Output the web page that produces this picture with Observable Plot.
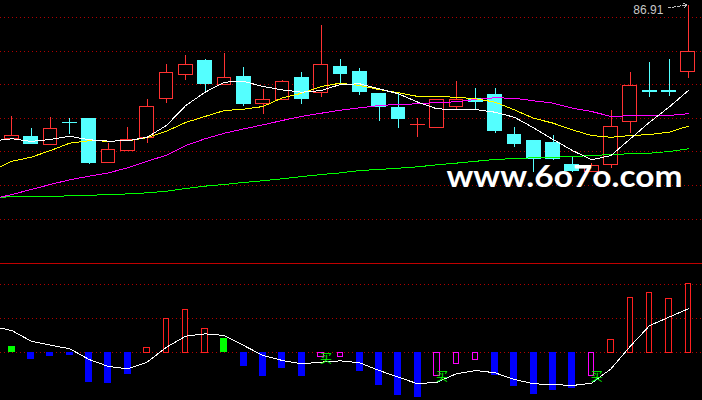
<!DOCTYPE html>
<html>
<head>
<meta charset="utf-8">
<script src="https://cdn.jsdelivr.net/npm/d3@7"></script>
<script src="https://cdn.jsdelivr.net/npm/@observablehq/plot@0.6"></script>
<style>
  html, body { margin: 0; padding: 0; background: #000; }
  #wrap { position: relative; width: 702px; height: 400px; overflow: hidden; background: #000; }
  #top, #bot { position: absolute; left: 0; }
  #top { top: 0; }
  #bot { top: 263px; }
  #wrap svg path, #wrap svg line, #wrap svg rect { shape-rendering: crispEdges; }
</style>
</head>
<body>
<div id="wrap"><div id="top"></div><div id="bot"></div></div>
<script>
// ---- Candles (36 sessions, index 0..35) ----
const open  = [78.95, 79.06, 78.62, 79.93, 80.13, 77.55, 78.26, 79.04, 81.34, 82.76, 83.58, 82.19, 82.63, 81.06, 81.30, 82.57, 81.69, 83.28, 82.98, 81.67, 80.84, 79.81, 79.61, 80.86, 81.34, 81.56, 79.23, 78.82, 78.70, 77.41, 76.99, 77.41, 79.97, 81.80, 81.80, 82.97];
const high  = [80.31, 79.59, 80.25, 80.19, 80.13, 78.68, 79.65, 81.32, 83.40, 83.94, 83.68, 84.06, 83.22, 81.91, 82.45, 82.92, 85.72, 83.68, 83.14, 81.67, 81.66, 80.19, 81.30, 82.39, 81.95, 81.95, 79.65, 78.82, 79.16, 77.88, 77.49, 80.66, 82.92, 83.52, 83.68, 86.91];
const low   = [78.95, 78.66, 78.62, 79.23, 77.47, 77.55, 78.26, 78.72, 81.10, 82.47, 81.81, 82.19, 80.90, 80.44, 81.30, 81.04, 81.45, 82.29, 81.57, 80.03, 79.61, 79.07, 79.61, 80.64, 80.66, 79.31, 78.46, 76.99, 77.69, 77.00, 76.95, 77.23, 79.31, 81.45, 81.51, 82.59];
const close = [79.16, 78.66, 79.59, 79.92, 77.53, 78.32, 78.92, 80.88, 82.91, 83.38, 82.23, 82.61, 81.04, 81.30, 82.37, 81.34, 83.38, 82.82, 81.75, 80.86, 80.14, 79.82, 81.30, 81.30, 81.18, 79.43, 78.64, 77.76, 77.76, 77.05, 77.33, 79.69, 82.13, 81.79, 81.79, 84.16];

// ---- Moving averages (index -1..35; first value is the previous session) ----
const ma5  = [78.85, 78.98, 78.82, 78.94, 79.13, 78.92, 78.84, 78.86, 79.07, 79.77, 80.96, 81.75, 82.35, 82.39, 82.09, 81.89, 81.75, 81.85, 82.21, 82.25, 81.95, 81.66, 81.16, 80.76, 80.72, 80.72, 80.56, 80.26, 79.63, 78.94, 78.28, 77.73, 77.98, 78.98, 79.97, 80.86, 81.85];
const ma10 = [77.09, 77.64, 77.88, 78.28, 78.72, 78.86, 78.84, 78.86, 79.04, 79.43, 79.95, 80.31, 80.66, 80.74, 80.90, 81.42, 81.69, 82.09, 82.29, 82.15, 81.91, 81.72, 81.50, 81.50, 81.45, 81.36, 81.16, 80.70, 80.20, 79.91, 79.51, 79.17, 79.07, 79.17, 79.23, 79.37, 79.73];
const ma20 = [75.39, 75.66, 75.96, 76.26, 76.54, 76.75, 76.95, 77.25, 77.64, 78.00, 78.58, 78.98, 79.31, 79.57, 79.81, 80.07, 80.31, 80.50, 80.68, 80.82, 80.96, 81.02, 81.06, 81.14, 81.18, 81.32, 81.42, 81.39, 81.24, 81.10, 80.80, 80.60, 80.31, 80.35, 80.37, 80.37, 80.47];
const ma60 = [75.47, 75.53, 75.53, 75.53, 75.59, 75.62, 75.65, 75.70, 75.76, 75.86, 76.02, 76.16, 76.26, 76.38, 76.48, 76.60, 76.73, 76.85, 76.95, 77.09, 77.15, 77.23, 77.31, 77.43, 77.53, 77.64, 77.75, 77.80, 77.85, 77.88, 77.92, 77.98, 78.04, 78.09, 78.12, 78.22, 78.38];

// ---- Price grid levels ----
const gridPrices = [86.2, 84.2, 82.2, 80.2, 78.2, 76.2, 74.2];

// ---- Lower indicator ----
const hist = [0.093, -0.094, -0.054, -0.035, -0.437, -0.447, -0.319, 0.074, 0.5, 0.632, 0.353, 0.21, -0.201, -0.349, -0.231, -0.349, -0.065, -0.059, -0.271, -0.476, -0.624, -0.653, -0.344, -0.168, -0.109, -0.329, -0.496, -0.613, -0.554, -0.525, -0.344, 0.191, 0.809, 0.882, 0.794, 1.015];
const histKind = ["rise-weak","fall","fall","fall","fall","fall","fall","rise","rise","rise","rise","rise-weak","fall","fall","fall","fall","fall-weak","fall-weak","fall","fall","fall","fall","fall-weak","fall-weak","fall-weak","fall","fall","fall","fall","fall","fall-weak","rise","rise","rise","rise","rise"];
const signal = [0.387, 0.328, 0.171, 0.112, 0.059, -0.099, -0.201, -0.235, -0.138, 0.082, 0.244, 0.279, 0.254, 0.107, -0.040, -0.113, -0.162, -0.138, -0.118, -0.147, -0.260, -0.359, -0.456, -0.432, -0.309, -0.260, -0.294, -0.393, -0.456, -0.466, -0.481, -0.447, -0.235, 0.097, 0.401, 0.524, 0.647];
const lowerGrid = [1.0, 0.5, 0];
const panelTop = 1.306;
const buyDays = [16, 22, 30];
const buyLevels = [-0.09, -0.36, -0.36];
const buyLabel = "买";
const watermark = "www.6o7o.com";

const kinds = ["rise", "rise-weak", "fall", "fall-weak"];
const kindColors = ["#ff2020", "#00ff00", "#0000ff", "#ff00ff"];

// ---- Build ----
const days = d3.range(36);
const maDays = d3.range(-1, 36);
const candles = days.map(i => ({i, open: open[i], high: high[i], low: low[i], close: close[i], up: close[i] > open[i]}));
const RED = "#ff3232", CYAN = "#54ffff";
const BW = 0.355;
const xDomain = [-0.585, 35.733];
const maxHigh = d3.max(high);
const maxIdx = high.indexOf(maxHigh);

const maLine = (arr, color) => Plot.line(maDays, {x: d => d, y: (d, k) => arr[k], stroke: color, strokeWidth: 1, clip: true});

const topChart = Plot.plot({
  width: 702, height: 263, margin: 0,
  style: {background: "#000", fontFamily: "Liberation Sans"},
  x: {domain: xDomain, axis: null},
  y: {domain: [71.555, 87.21], axis: null},
  marks: [
    Plot.ruleY(gridPrices, {stroke: "#b00000", strokeDasharray: "1,3"}),
    Plot.ruleX(candles, {x: "i", y1: "low", y2: "high", stroke: d => d.up ? RED : CYAN}),
    Plot.rect(candles, {x1: d => d.i - BW, x2: d => d.i + BW, y1: "open", y2: "close",
      fill: d => d.up ? "#000000" : CYAN, stroke: d => d.up ? RED : CYAN}),
    maLine(ma60, "#00ff00"),
    maLine(ma20, "#ff00ff"),
    maLine(ma10, "#ffff00"),
    maLine(ma5, "#ffffff"),
    Plot.arrow([{x1: maxIdx - 1.06, y1: maxHigh - 0.14, x2: maxIdx - 0.05, y2: maxHigh + 0.04}],
      {x1: "x1", y1: "y1", x2: "x2", y2: "y2", stroke: "#c0c0c0", strokeWidth: 1, strokeDasharray: "3,2", headLength: 6}),
    Plot.text([{x: maxIdx, y: maxHigh}], {x: "x", y: "y", text: () => d3.format(".2f")(maxHigh),
      textAnchor: "end", lineAnchor: "middle", dx: -25, dy: 4.5, fill: "#c8c8c8", fontSize: 12, fontFamily: "Liberation Sans"}),
    Plot.text([watermark], {text: d => d, frameAnchor: "top-left", dx: 446, dy: 177, textAnchor: "start", lineAnchor: "middle",
      fill: "#ffffff", fontSize: 30, fontWeight: "bold", fontFamily: "Lato"})
  ]
});
document.getElementById("top").appendChild(topChart);
topChart.querySelectorAll("text").forEach(t => {
  if (t.textContent === watermark) {
    t.setAttribute("textLength", 236);
    t.setAttribute("lengthAdjust", "spacingAndGlyphs");
  }
});

const bars = days.map(i => ({i, v: hist[i], kind: histKind[i]}));
const filledKinds = new Set(["rise-weak", "fall"]);
const buys = buyDays.map((d, k) => ({i: d, v: buyLevels[k]}));

const botChart = Plot.plot({
  width: 702, height: 137, margin: 0,
  style: {background: "#000", fontFamily: "Liberation Sans"},
  x: {domain: xDomain, axis: null},
  y: {domain: [-0.7015, 1.3132], axis: null},
  color: {domain: kinds, range: kindColors},
  marks: [
    Plot.ruleY([panelTop], {stroke: "#c00000", strokeWidth: 1}),
    Plot.ruleY(lowerGrid, {stroke: "#b00000", strokeDasharray: "1,3"}),
    Plot.rect(bars.filter(d => filledKinds.has(d.kind)), {x1: d => d.i - 0.18, x2: d => d.i + 0.18, y1: 0, y2: "v", fill: "kind"}),
    Plot.rect(bars.filter(d => !filledKinds.has(d.kind)), {x1: d => d.i - 0.14, x2: d => d.i + 0.14, y1: 0, y2: "v", fill: "#000000", stroke: "kind", strokeWidth: 1}),
    Plot.line(maDays, {x: d => d, y: (d, k) => signal[k], stroke: "#ffffff", strokeWidth: 1, clip: true}),
    Plot.text(buys, {x: "i", y: "v", text: () => buyLabel, dx: 5, fill: "#00ff00", fontSize: 12, fontFamily: "Noto Sans CJK SC", lineAnchor: "middle"})
  ]
});
document.getElementById("bot").appendChild(botChart);
</script>
</body>
</html>
